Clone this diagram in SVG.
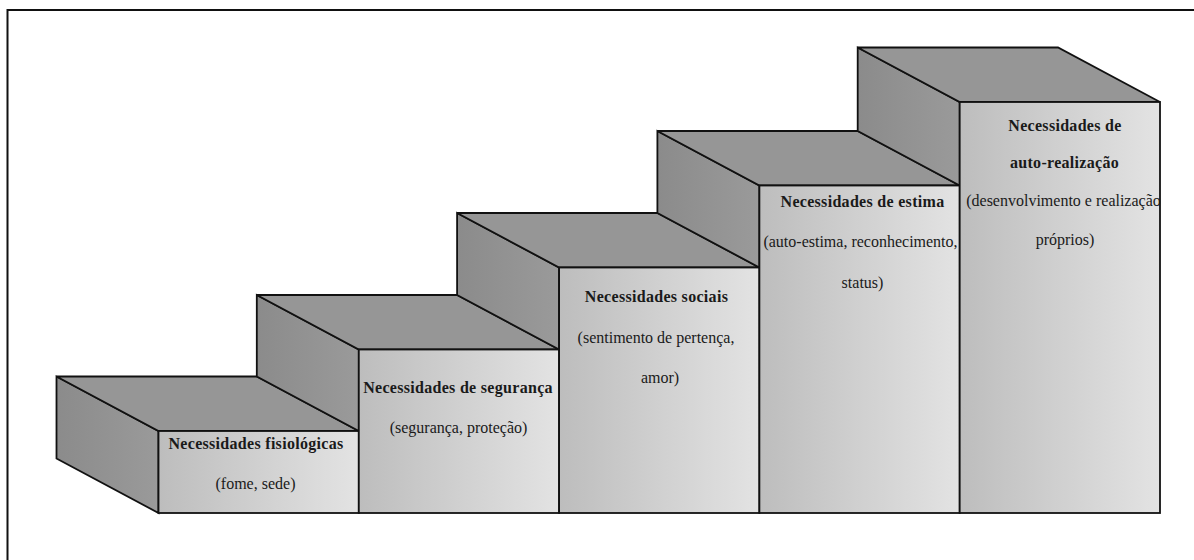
<svg xmlns="http://www.w3.org/2000/svg" width="1194" height="560" viewBox="0 0 1194 560">
<defs>
<linearGradient id="gFront" x1="0" y1="0" x2="1" y2="0">
<stop offset="0" stop-color="#bdbdbd"/>
<stop offset="1" stop-color="#e3e3e3"/>
</linearGradient>
<linearGradient id="gSide" x1="0" y1="0" x2="1" y2="0">
<stop offset="0" stop-color="#8b8b8b"/>
<stop offset="1" stop-color="#9a9a9a"/>
</linearGradient>
</defs>
<style>
.front{fill:url(#gFront);stroke:#111;stroke-width:1.8;stroke-linejoin:miter}
.top{fill:#969696;stroke:#111;stroke-width:1.8;stroke-linejoin:miter}
.side{fill:url(#gSide);stroke:#111;stroke-width:1.8;stroke-linejoin:miter}
.t{font-family:"Liberation Serif","Times New Roman",serif;font-size:16px;fill:#1a1a1a;text-anchor:middle}
.b{font-weight:bold;letter-spacing:0.3px}
.frame{stroke:#111;stroke-width:2;fill:none}
</style>
<rect width="1194" height="560" fill="#fff"/>
<path class="frame" d="M7.5,560 V10 H1194"/>

<g id="step1">
<polygon class="side" points="56.5,376.5 158.5,431 158.5,513 56.5,458.5"/>
<polygon class="top" points="56.5,376.5 256.8,376.5 358.8,431 158.5,431"/>
<rect class="front" x="158.5" y="431" width="200.3" height="82"/>
<text class="t b" x="256" y="449.3">Necessidades fisiológicas</text>
<text class="t" x="255.5" y="489.3">(fome, sede)</text>
</g>

<g id="step2">
<polygon class="side" points="256.8,295 358.8,349.5 358.8,431 256.8,376.5"/>
<polygon class="top" points="256.8,295 457.1,295 559.1,349.5 358.8,349.5"/>
<rect class="front" x="358.8" y="349.5" width="200.3" height="163.5"/>
<text class="t b" x="458" y="393.3">Necessidades de segurança</text>
<text class="t" x="458.5" y="433">(segurança, proteção)</text>
</g>

<g id="step3">
<polygon class="side" points="457.1,213 559.1,267.5 559.1,349.5 457.1,295"/>
<polygon class="top" points="457.1,213 657.4,213 759.4,267.5 559.1,267.5"/>
<rect class="front" x="559.1" y="267.5" width="200.3" height="245.5"/>
<text class="t b" x="656.5" y="301.7">Necessidades sociais</text>
<text class="t" x="656" y="342.7">(sentimento de pertença,</text>
<text class="t" x="660" y="383.3">amor)</text>
</g>

<g id="step4">
<polygon class="side" points="657.4,131 759.4,185.5 759.4,267.5 657.4,213"/>
<polygon class="top" points="657.4,131 857.7,131 959.7,185.5 759.4,185.5"/>
<rect class="front" x="759.4" y="185.5" width="200.3" height="327.5"/>
<text class="t b" x="862.5" y="207.3">Necessidades de estima</text>
<text class="t" x="860.5" y="247.3">(auto-estima, reconhecimento,</text>
<text class="t" x="862.5" y="288.3">status)</text>
</g>

<g id="step5">
<polygon class="side" points="857.7,47.5 959.7,102 959.7,185.5 857.7,131"/>
<polygon class="top" points="857.7,47.5 1058,47.5 1160,102 959.7,102"/>
<rect class="front" x="959.7" y="102" width="200.3" height="411"/>
<text class="t b" x="1065" y="130.7">Necessidades de</text>
<text class="t b" x="1064.5" y="168.3">auto-realização</text>
<text class="t" x="1063.5" y="205.7">(desenvolvimento e realização</text>
<text class="t" x="1065" y="245">próprios)</text>
</g>
</svg>
